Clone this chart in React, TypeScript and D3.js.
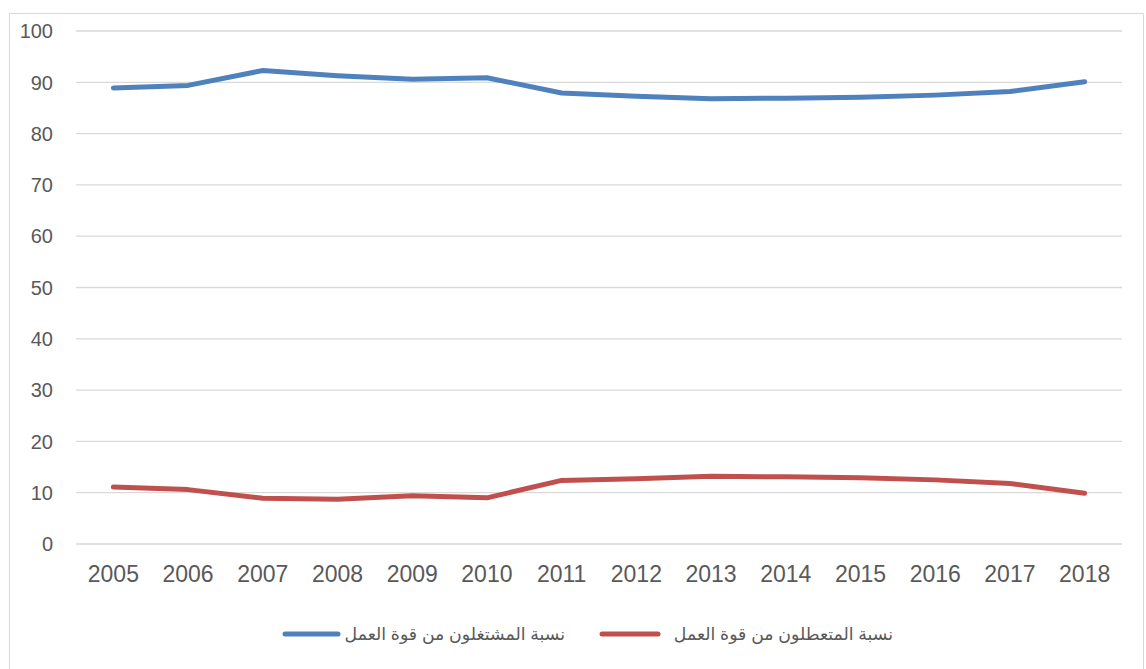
import React from 'react';
import * as d3 from 'd3';

// --- Data ---
const years = ['2005', '2006', '2007', '2008', '2009', '2010', '2011', '2012', '2013', '2014', '2015', '2016', '2017', '2018'];
const employed = [88.9, 89.4, 92.3, 91.3, 90.6, 90.9, 87.9, 87.3, 86.8, 86.9, 87.1, 87.5, 88.2, 90.1];
const unemployed = [11.1, 10.6, 8.9, 8.7, 9.4, 9.0, 12.4, 12.7, 13.2, 13.1, 12.9, 12.5, 11.8, 9.9];
const yTicks = [0, 10, 20, 30, 40, 50, 60, 70, 80, 90, 100];
const employedLabel = 'نسبة المشتغلون من قوة العمل';
const unemployedLabel = 'نسبة المتعطلون من قوة العمل';

const W = 1146;
const H = 669;
const margin = { top: 31, right: 24, bottom: 125, left: 76 };
const FONT = '"Liberation Sans", Arial, "DejaVu Sans", sans-serif';

const App = () => {
    const x = d3.scaleBand().domain(years).range([margin.left, W - margin.right]);
    const y = d3.scaleLinear().domain([0, 100]).range([H - margin.bottom, margin.top]);

    const line = d3.line<number>()
        .x((_, i) => (x(years[i]) as number) + x.bandwidth() / 2)
        .y(d => y(d));

    const series = [
        { values: employed, color: '#4f81bd' },
        { values: unemployed, color: '#c0504d' },
    ];

    // legend: line sits left of the right-to-left label
    const legendY = 634;
    const legend = [
        { label: employedLabel, color: '#4f81bd', x1: 285, x2: 338, textX: 565 },
        { label: unemployedLabel, color: '#c0504d', x1: 602, x2: 658, textX: 893 },
    ];

    return (
        <div style={{ position: 'absolute', left: 0, top: 0 }}>
            <svg width={W} height={H} style={{ display: 'block', background: '#fff' }}>
                <rect x={9.5} y={13.5} width={W - 12} height={H} fill="#fff" stroke="#d9d9d9" strokeWidth={1} />
                {yTicks.map(t => (
                    <g key={t}>
                        <line x1={margin.left} x2={W - margin.right} y1={y(t)} y2={y(t)} stroke="#d9d9d9" strokeWidth={1.3} />
                        <text x={53} y={y(t)} dy="0.36em" textAnchor="end" fontFamily={FONT} fontSize={20} fill="#595959">{t}</text>
                    </g>
                ))}
                {years.map(yr => (
                    <text key={yr} x={(x(yr) as number) + x.bandwidth() / 2} y={582} textAnchor="middle" fontFamily={FONT} fontSize={23} fill="#595959">{yr}</text>
                ))}
                {series.map((s, i) => (
                    <path key={i} d={line(s.values) || ''} fill="none" stroke={s.color} strokeWidth={5} strokeLinecap="round" strokeLinejoin="round" />
                ))}
                {legend.map((l, i) => (
                    <g key={i}>
                        <line x1={l.x1} x2={l.x2} y1={legendY} y2={legendY} stroke={l.color} strokeWidth={5} strokeLinecap="round" />
                        <text x={l.textX} y={legendY} dy="0.35em" textAnchor="end" fontFamily={FONT} fontSize={17.3} fill="#595959">{l.label}</text>
                    </g>
                ))}
            </svg>
        </div>
    );
};

export default App;
